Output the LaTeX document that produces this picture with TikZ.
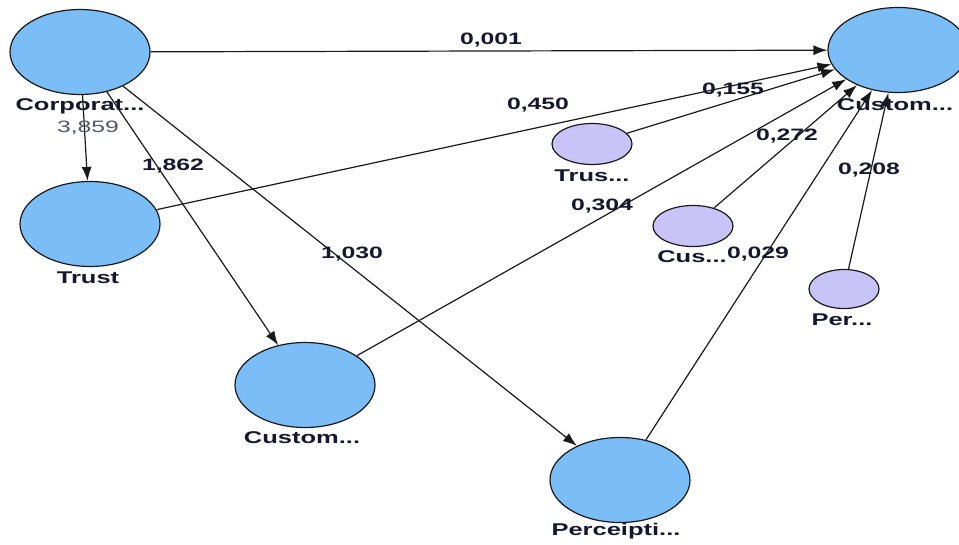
\documentclass[tikz,border=0pt]{standalone}
\usepackage{fontspec}
\newfontfamily\lblfont[FakeStretch=1.5]{Liberation Sans}
\usetikzlibrary{shapes.geometric,arrows.meta}
\definecolor{bigfill}{RGB}{123,190,247}
\definecolor{smallfill}{RGB}{200,196,248}
\definecolor{txt}{RGB}{22,22,48}
\definecolor{numgrey}{RGB}{85,85,115}
\definecolor{edgec}{RGB}{25,25,25}
\tikzset{
  bigvar/.style={ellipse, draw=edgec, line width=1.2pt, fill=bigfill, minimum width=140pt, minimum height=85pt, inner sep=0pt},
  smallvar/.style={ellipse, draw=edgec, line width=1.2pt, fill=smallfill, minimum width=80pt, minimum height=41pt, inner sep=0pt},
  lbl/.style={text=txt, font=\lblfont\bfseries\fontsize{17}{19}\selectfont, inner sep=0pt},
  coef/.style={text=txt, font=\lblfont\bfseries\fontsize{16.5}{18}\selectfont, inner sep=0pt},
  conn/.style={draw=edgec, line width=1.2pt, -{Latex[length=14pt,width=10pt]}}
}
\begin{document}
\begin{tikzpicture}[x=1pt,y=-1pt]
\useasboundingbox (0,0) rectangle (959,544);
\clip (0,0) rectangle (959,544);
% big latent variables
\node[bigvar] (corp) at (80,52) {};
\node[bigvar] (trust) at (90,224) {};
\node[bigvar] (custmid) at (305,385) {};
\node[bigvar] (perc) at (620,480) {};
\node[bigvar] (custtr) at (898,50) {};
% small variables
\node[smallvar] (trs) at (592,144) {};
\node[smallvar] (cuss) at (693,226) {};
\node[smallvar, minimum width=70pt, minimum height=39pt] (pers) at (844,289) {};
% connectors
\draw[conn] (corp) -- (custtr);
\draw[conn] (trust) -- (custtr);
\draw[conn] (trs) -- (custtr);
\draw[conn] (custmid) -- (custtr);
\draw[conn] (cuss) -- (custtr);
\draw[conn] (perc) -- (custtr);
\draw[conn] (pers) -- (custtr);
\draw[conn] (corp) -- (trust);
\draw[conn] (corp) -- (custmid);
\draw[conn] (corp) -- (perc);
% variable labels
\node[lbl] (lcorp) at (80,106) {Corporat...};
\node[lbl] (ltrust) at (88,278) {Trust};
\node[lbl] (lcustmid) at (302,438) {Custom...};
\node[lbl] (lperc) at (616,531) {Perceipti...};
\node[lbl] (lcusttr) at (895,105) {Custom...};
\node[lbl] (ltrs) at (592,176) {Trus...};
\node[lbl] (lcuss) at (692,257) {Cus...};
\node[lbl] (lpers) at (842,320) {Per...};
% coefficients
\node[text=numgrey, font=\lblfont\fontsize{16.5}{18}\selectfont, inner sep=0pt] (c3859) at (88,128) {3,859};
\node[coef] (c001) at (491,40) {0,001};
\node[coef] (c450) at (538,105) {0,450};
\node[coef] (c155) at (733,90) {0,155};
\node[coef] (c272) at (787,136) {0,272};
\node[coef] (c208) at (869,170) {0,208};
\node[coef] (c304) at (602,206) {0,304};
\node[coef] (c029) at (758,254) {0,029};
\node[coef] (c1862) at (173,166) {1,862};
\node[coef] (c1030) at (352,254) {1,030};
\end{tikzpicture}
\end{document}
